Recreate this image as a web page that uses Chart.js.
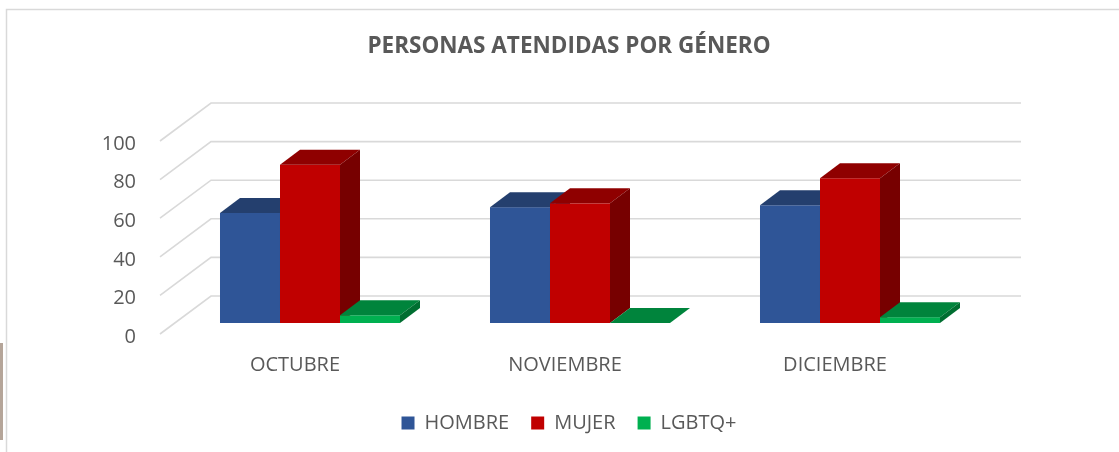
<!DOCTYPE html>
<html>
<head>
<meta charset="utf-8">
<script src="https://cdn.jsdelivr.net/npm/chart.js@4.4.0/dist/chart.umd.min.js"></script>
<style>
html,body{margin:0;padding:0;background:#fff;}
canvas{display:block;}
</style>
</head>
<body>
<canvas id="c" width="1119" height="452"></canvas>
<script>
// ---- data ----
const categories = ['OCTUBRE', 'NOVIEMBRE', 'DICIEMBRE'];
const seriesNames = ['HOMBRE', 'MUJER', 'LGBTQ+'];
const hombre = [57, 60, 61];
const mujer = [82, 62, 75];
const lgbtq = [4, 0, 3];
const yTicks = [0, 20, 40, 60, 80, 100];
const chartTitle = 'PERSONAS ATENDIDAS POR GÉNERO';

// ---- styles ----
const faceColors = [
  { front: '#2F5597', top: '#243F6E', side: '#1D355E' },
  { front: '#C00000', top: '#8F0000', side: '#770000' },
  { front: '#00B050', top: '#00843C', side: '#006E31' }
];
const TEXT = '#595959';
const GRID = '#D9D9D9';
const BAR_DX = 20, BAR_DY = 15;      // bar depth (oblique)
const BACK_DX = 36, BACK_DY = -27;   // back wall offset from bar front plane
const FRONT_DX = -15, FRONT_DY = 11; // front floor edge offset

Chart.defaults.font.family = "'Open Sans', sans-serif";
Chart.defaults.color = TEXT;

function poly(ctx, pts, color) {
  ctx.beginPath();
  ctx.moveTo(pts[0][0], pts[0][1]);
  for (let k = 1; k < pts.length; k++) ctx.lineTo(pts[k][0], pts[k][1]);
  ctx.closePath();
  ctx.fillStyle = color;
  ctx.fill();
}

const depth3d = {
  id: 'depth3d',
  beforeDraw(chart) {
    const ctx = chart.ctx;
    ctx.save();
    ctx.fillStyle = '#fff';
    ctx.fillRect(0, 0, chart.width, chart.height);
    ctx.strokeStyle = GRID;
    ctx.lineWidth = 1.5;
    ctx.beginPath();
    ctx.moveTo(6.5, chart.height + 5);
    ctx.lineTo(6.5, 9.5);
    ctx.lineTo(chart.width + 5, 9.5);
    ctx.stroke();
    ctx.fillStyle = '#B5A599';
    ctx.fillRect(0, 343, 3, 97);
    ctx.restore();
  },
  beforeDatasetsDraw(chart) {
    const ctx = chart.ctx;
    const { left, right } = chart.chartArea;
    const ys = chart.scales.y;
    ctx.save();
    ctx.strokeStyle = GRID;
    ctx.lineWidth = 1.6;
    yTicks.forEach(v => {
      const py = ys.getPixelForValue(v);
      ctx.beginPath();
      ctx.moveTo(left + FRONT_DX, py + FRONT_DY);
      ctx.lineTo(left + BACK_DX, py + BACK_DY);
      ctx.lineTo(right + BACK_DX, py + BACK_DY);
      ctx.stroke();
    });
    const n = chart.data.labels.length;
    for (let i = 0; i < n; i++) {
      chart.data.datasets.forEach((ds, d) => {
        const el = chart.getDatasetMeta(d).data[i];
        const p = el.getProps(['x', 'y', 'base', 'width'], true);
        const xl = p.x - p.width / 2, xr = p.x + p.width / 2;
        const top = p.y, base = p.base;
        const c = faceColors[d];
        ctx.fillStyle = c.front;
        ctx.fillRect(xl, top, p.width, base - top);
        poly(ctx, [[xl, top], [xr, top], [xr + BAR_DX, top - BAR_DY], [xl + BAR_DX, top - BAR_DY]], c.top);
        poly(ctx, [[xr, top], [xr + BAR_DX, top - BAR_DY], [xr + BAR_DX, base - BAR_DY], [xr, base]], c.side);
      });
    }
    ctx.restore();
    return false;
  }
};

const seriesValues = [hombre, mujer, lgbtq];

new Chart(document.getElementById('c'), {
  type: 'bar',
  data: {
    labels: categories,
    datasets: seriesNames.map((name, d) => ({
      label: name,
      data: seriesValues[d],
      backgroundColor: faceColors[d].front,
      borderColor: faceColors[d].front,
      borderWidth: 0,
      categoryPercentage: 0.6667,
      barPercentage: 1
    }))
  },
  options: {
    responsive: false,
    animation: false,
    events: [],
    layout: { padding: { left: 19, right: 0, top: 0, bottom: 9 } },
    scales: {
      x: {
        grid: { display: false, drawTicks: false },
        border: { display: false },
        ticks: { font: { size: 20 }, color: TEXT, padding: 30, labelOffset: -15, maxRotation: 0 },
        afterFit(scale) { scale.height = 68; }
      },
      y: {
        min: 0, max: 100,
        grid: { display: false, drawTicks: false },
        border: { display: false },
        ticks: { stepSize: 20, font: { size: 20 }, color: TEXT, padding: 39, labelOffset: 14 },
        afterFit(scale) { scale.width = 156; }
      },
      yRight: {
        position: 'right',
        display: true,
        grid: { display: false, drawTicks: false },
        border: { display: false },
        ticks: { display: false },
        afterFit(scale) { scale.width = 134; }
      }
    },
    plugins: {
      title: {
        display: true,
        text: chartTitle,
        color: TEXT,
        font: { size: 22.5, weight: 'bold' },
        padding: { top: 33, bottom: 70 }
      },
      legend: {
        position: 'bottom',
        labels: { boxWidth: 13, boxHeight: 13, font: { size: 20 }, color: TEXT, padding: 22 }
      },
      tooltip: { enabled: false }
    }
  },
  plugins: [depth3d]
});
</script>
</body>
</html>
